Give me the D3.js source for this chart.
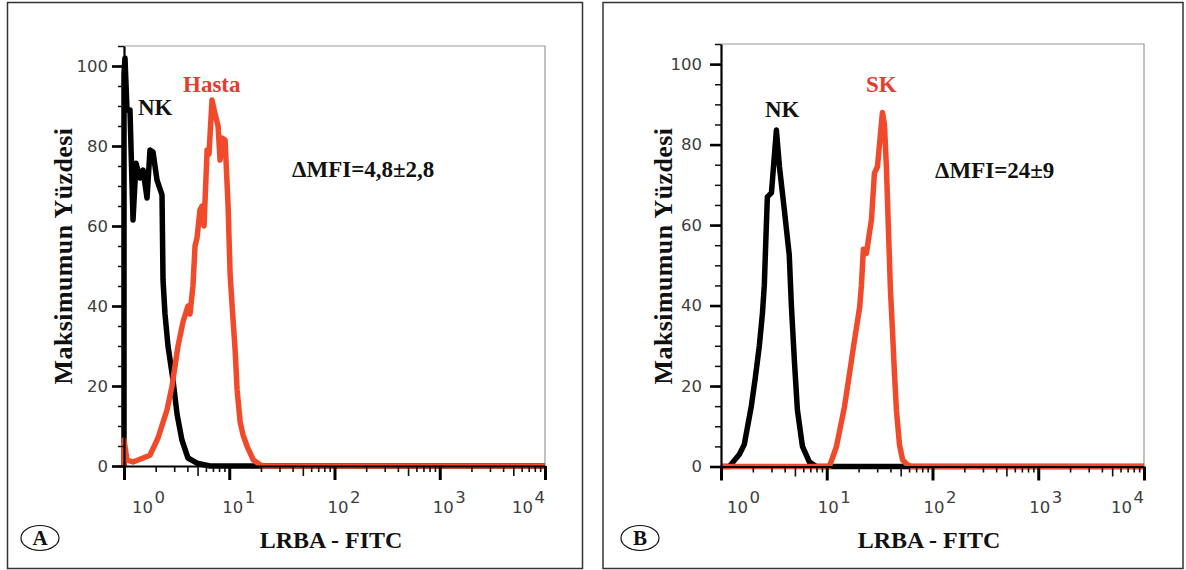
<!DOCTYPE html>
<html><head><meta charset="utf-8">
<script src="https://cdn.jsdelivr.net/npm/d3@7"></script>
<style>body{margin:0;background:#fff}svg{display:block}</style>
</head><body>
<svg id="c" width="1186" height="570"></svg>
<script>
// ---------- data ----------
const xTickValues = [1, 10, 100, 1000, 10000];
const xTickExponents = ["0", "1", "2", "3", "4"];
const yTickValues = [0, 20, 40, 60, 80, 100];
const yMinorValues = [0,5,10,15,20,25,30,35,40,45,50,55,60,65,70,75,80,85,90,95,100,105];

// Panel A : NK (black)
const aNK_x = [1, 1, 1.022, 1.068, 1.14, 1.218, 1.30, 1.419, 1.516, 1.655, 1.766, 1.886, 2.058, 2.297, 2.348, 2.452, 2.618, 2.922, 3.19, 3.55, 4.053, 4.94, 6.56, 10000];
const aNK_y = [0, 98, 102, 89, 89, 61.5, 75.7, 72, 74, 67, 79, 78.5, 71.5, 67.8, 46.5, 38, 30, 21.5, 13, 6.5, 2, 0.7, 0, 0];
// Panel A : Hasta (red)
const aHasta_x = [1, 1, 1.068, 1.218, 1.766, 2.104, 2.561, 2.860, 3.260, 3.635, 4.053, 4.237, 4.52, 4.73, 4.94, 5.27, 5.51, 5.76, 6.16, 6.42, 6.86, 7.33, 7.83, 8.18, 8.54, 9.13, 9.75, 10.19, 10.65, 11.37, 11.88, 12.69, 13.55, 14.84, 16.94, 19.6, 21.8, 10000];
const aHasta_y = [0, 6.5, 1.5, 1, 2.7, 7, 14, 20, 30, 36, 40, 38, 45, 55, 57, 64, 65, 60, 79, 78, 91.5, 88, 85, 76.5, 82, 81.5, 65, 48, 40, 29, 19, 11, 7.7, 4.8, 1.5, 0.3, 0, 0];
// Panel B : NK (black)
const bNK_x = [1, 1.2, 1.279, 1.49, 1.662, 1.935, 2.11, 2.304, 2.465, 2.567, 2.685, 2.745, 3.00, 3.34, 3.57, 3.97, 4.42, 4.63, 4.95, 5.28, 5.89, 6.86, 7.98, 10000];
const bNK_y = [0, 0, 0.9, 3, 5.5, 15, 22, 30, 38, 45, 60, 67, 68, 83.6, 74.5, 63.8, 52.6, 40, 26, 14, 5, 1.1, 0, 0];
// Panel B : SK (red)
const bSK_x = [1, 10.6, 12.34, 14.7, 16.4, 18.3, 20.5, 21.27, 22.2, 23.71, 26.46, 28.25, 30.15, 33.63, 35.1, 36.7, 38.3, 40.0, 41.8, 43.7, 45.6, 48.8, 52.2, 58.0, 63.3, 10000];
const bSK_y = [0, 0, 4.9, 14.8, 23, 31.4, 39.7, 45, 54, 53, 61.3, 72.9, 74.5, 88, 85, 74, 59, 44, 34, 23, 14, 5.3, 1.6, 0.4, 0, 0];

const panels = [
  {letter:"A", frame:[7.5, 2.5, 575, 566], xr:[124, 545], yr:[466, 46],
   series:[{x:aNK_x, y:aNK_y, color:"#000"}, {x:aHasta_x, y:aHasta_y, color:"#f04a2a"}],
   labels:[{t:"NK", x:138, y:115, c:"#111"}, {t:"Hasta", x:183, y:92, c:"#e63b2e"}, {t:"\u0394MFI=4,8\u00b12,8", x:292, y:177, c:"#111"}],
   ylab:[63, 256], xlab:[331, 548], circ:[40, 538], firstDx:8, midDx:-7, ylabGap:4, majLen:12},
  {letter:"B", frame:[603, 2.5, 580, 566], xr:[721, 1144], yr:[466.5, 44],
   series:[{x:bNK_x, y:bNK_y, color:"#000"}, {x:bSK_x, y:bSK_y, color:"#f04a2a"}],
   labels:[{t:"NK", x:765, y:117, c:"#111"}, {t:"SK", x:866, y:92, c:"#e63b2e"}, {t:"\u0394MFI=24\u00b19", x:935, y:178, c:"#111"}],
   ylab:[663, 256], xlab:[929, 548], circ:[640, 538], firstDx:6, midDx:-9, ylabGap:8, majLen:11}
];

const svg = d3.select("#c");
const serif = "'Liberation Serif','Times New Roman',serif";
const sans = "'DejaVu Sans',Verdana,sans-serif";

panels.forEach(p => {
  const g = svg.append("g");
  g.append("rect").attr("x", p.frame[0]).attr("y", p.frame[1]).attr("width", p.frame[2]).attr("height", p.frame[3])
    .attr("fill", "none").attr("stroke", "#333").attr("stroke-width", 1.5);

  const x = d3.scaleLog().domain([1, 10000]).range(p.xr);
  const y = d3.scaleLinear().domain([0, 105]).range(p.yr);

  // plot frame (top/right)
  g.append("path").attr("d", `M${p.xr[0]},${p.yr[1]}H${p.xr[1]}V${p.yr[0]}`)
    .attr("fill", "none").attr("stroke", "#999").attr("stroke-width", 1.2);

  // curves
  const line = d3.line().x(d => x(d[0])).y(d => y(d[1]));
  p.series.forEach(s => {
    const pts = s.x.map((v, i) => [v, s.y[i]]);
    g.append("path").attr("d", line(pts)).attr("fill", "none").attr("stroke", s.color)
      .attr("stroke-width", 5.5).attr("stroke-linejoin", "round").attr("stroke-linecap", "butt");
  });

  // y axis minor
  const yMinor = g.append("g").attr("transform", `translate(${p.xr[0]},0)`)
    .call(d3.axisLeft(y).tickValues(yMinorValues).tickSize(6).tickSizeOuter(0).tickFormat(""));
  yMinor.select(".domain").remove();
  yMinor.selectAll("line").attr("stroke", "#111").attr("stroke-width", 1.5);
  // y axis major
  const yAx = g.append("g").attr("transform", `translate(${p.xr[0]},0)`)
    .call(d3.axisLeft(y).tickValues(yTickValues).tickSize(p.majLen).tickSizeOuter(0).tickPadding(p.ylabGap));
  yAx.attr("font-size", null).attr("font-family", null);
  yAx.select(".domain").attr("stroke", "#000").attr("stroke-width", 2.2);
  yAx.selectAll("line").attr("stroke", "#000").attr("stroke-width", 2.6);
  yAx.selectAll("text").style("font-family", sans).style("font-size", "16.5px").attr("fill", "#3d3d3d");

  // x axis minor
  const minorVals = [];
  [1, 10, 100, 1000].forEach(d => { for (let k = 2; k <= 9; k++) minorVals.push(d * k); });
  const xMinor = g.append("g").attr("transform", `translate(0,${p.yr[0]})`)
    .call(d3.axisBottom(x).tickValues(minorVals).tickSize(6).tickSizeOuter(0).tickFormat(""));
  xMinor.select(".domain").remove();
  xMinor.selectAll("line").attr("stroke", "#111").attr("stroke-width", 1.6)
    .attr("y2", d => String(d).startsWith("5") ? 10 : 6);
  const xAx = g.append("g").attr("transform", `translate(0,${p.yr[0]})`)
    .call(d3.axisBottom(x).tickValues(xTickValues).tickSize(14).tickSizeOuter(0).tickFormat(""));
  xAx.select(".domain").attr("stroke", "#000").attr("stroke-width", 2.2);
  xAx.selectAll("line").attr("stroke", "#000").attr("stroke-width", 3);

  // x tick labels 10^n
  xTickValues.forEach((v, i) => {
    const last = i === xTickValues.length - 1;
    const t = g.append("text").attr("y", 513).style("font-family", sans).style("font-size", "16.5px").attr("fill", "#3d3d3d");
    if (last) t.attr("x", x(v)).attr("text-anchor", "end");
    else t.attr("x", x(v) + (i === 0 ? p.firstDx : p.midDx)).attr("text-anchor", "start");
    t.append("tspan").text("10");
    t.append("tspan").attr("dx", 1.5).attr("dy", -10).text(xTickExponents[i]);
  });

  // axis titles
  g.append("text").attr("transform", `translate(${p.ylab[0]},${p.ylab[1]}) rotate(-90)`)
    .attr("text-anchor", "middle").attr("dy", "0.35em").attr("font-family", serif).attr("font-weight", "bold")
    .attr("font-size", 26).attr("letter-spacing", 0.4).attr("fill", "#111").text("Maksimumun Yüzdesi");
  g.append("text").attr("x", p.xlab[0]).attr("y", p.xlab[1]).attr("text-anchor", "middle")
    .attr("font-family", serif).attr("font-weight", "bold").attr("font-size", 24).attr("fill", "#111").text("LRBA - FITC");

  // in-plot labels
  p.labels.forEach(l => {
    g.append("text").attr("x", l.x).attr("y", l.y).attr("font-family", serif).attr("font-weight", "bold")
      .attr("font-size", 23).attr("fill", l.c).text(l.t);
  });

  // panel letter
  g.append("ellipse").attr("cx", p.circ[0]).attr("cy", p.circ[1]).attr("rx", 19).attr("ry", 12.5)
    .attr("fill", "none").attr("stroke", "#111").attr("stroke-width", 1.2);
  g.append("text").attr("x", p.circ[0]).attr("y", p.circ[1] + 7).attr("text-anchor", "middle")
    .attr("font-family", serif).attr("font-weight", "bold").attr("font-size", 21).attr("fill", "#111").text(p.letter);
});
</script>
</body></html>
